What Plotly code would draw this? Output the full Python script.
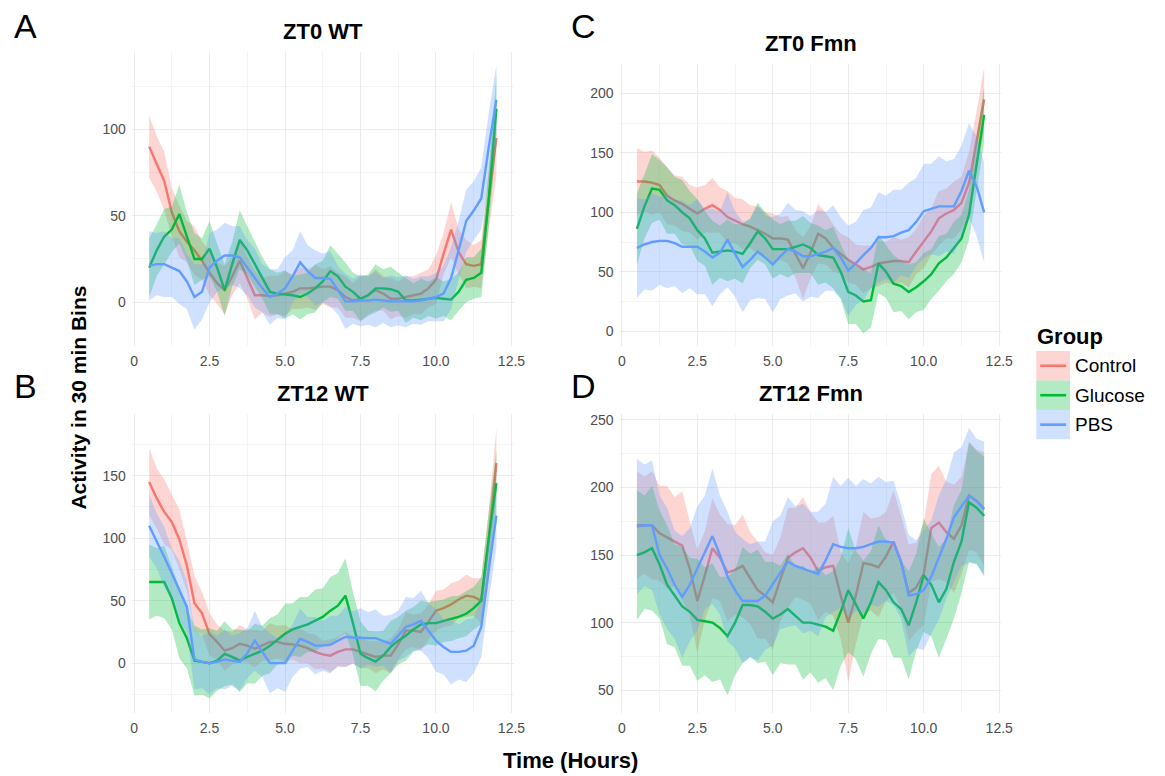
import plotly.graph_objects as go

# Time of each 15-min step (hours)
hours = [0.5, 0.75, 1.0, 1.25, 1.5, 1.75, 2.0, 2.25,
         2.5, 2.75, 3.0, 3.25, 3.5, 3.75, 4.0, 4.25,
         4.5, 4.75, 5.0, 5.25, 5.5, 5.75, 6.0, 6.25,
         6.5, 6.75, 7.0, 7.25, 7.5, 7.75, 8.0, 8.25,
         8.5, 8.75, 9.0, 9.25, 9.5, 9.75, 10.0, 10.25,
         10.5, 10.75, 11.0, 11.25, 11.5, 11.75, 12.0]

groups = ["Control", "Glucose", "PBS"]

# ---- ZT0 WT ----
zt0_wt_control = [90, 80, 70, 52, 41, 35, 30, 24,
                  17, 11, 7, 15, 24, 14, 4, 4,
                  3.5, 4, 5, 6, 8, 8, 8.5, 9,
                  9, 7, 3, 1, 2, 4, 7, 5,
                  2, 2, 3, 4, 5, 8, 13, 28,
                  42, 29, 22, 21, 22, 60, 95]
zt0_wt_control_err = [18, 16, 17, 14, 15, 12, 14, 11,
                      13, 12, 14, 11, 13, 12, 14, 10,
                      12, 11, 13, 10, 12, 11, 13, 10,
                      12, 10, 12, 10, 13, 11, 12, 10,
                      12, 10, 12, 11, 12, 11, 14, 12,
                      16, 13, 14, 12, 14, 18, 22]
zt0_wt_glucose = [20, 30, 38, 42, 51, 38, 25, 25,
                  31, 20, 7, 22, 36, 30, 22, 14,
                  6, 5, 4.5, 4, 3, 5, 8, 12,
                  18, 15, 9, 6, 2, 4, 8, 8,
                  7.5, 6, 1, 1, 1.5, 2, 2.5, 2,
                  1.5, 6, 13, 14, 17, 60, 112]
zt0_wt_glucose_err = [17, 15, 16, 13, 17, 14, 15, 12,
                      16, 14, 15, 13, 17, 14, 13, 12,
                      13, 12, 14, 11, 13, 12, 14, 12,
                      15, 13, 14, 11, 13, 12, 14, 11,
                      13, 11, 13, 10, 12, 10, 12, 10,
                      12, 11, 13, 12, 14, 16, 20]
zt0_wt_pbs = [21, 22, 22, 20, 18, 12, 3, 6,
              20, 24, 27, 27, 26, 20, 14, 8,
              3, 5, 8, 15, 23, 18, 14, 14,
              13.5, 7, 0.5, 0.5, 1, 1, 1.5, 1,
              0.5, 0.5, 0.5, 0.5, 1, 2, 3, 5,
              14, 30, 47, 53, 60, 90, 117]
zt0_wt_pbs_err = [20, 18, 19, 17, 19, 16, 19, 16,
                  20, 18, 19, 17, 18, 16, 17, 14,
                  16, 14, 18, 15, 18, 15, 16, 14,
                  16, 14, 16, 13, 15, 14, 16, 13,
                  15, 14, 15, 13, 14, 13, 14, 16,
                  18, 17, 18, 17, 18, 20, 20]

# ---- ZT12 WT ----
zt12_wt_control = [145, 132, 121, 113, 99, 78, 48, 40,
                   23, 17, 10, 12, 15.5, 14, 11.5, 14,
                   17, 17, 15.5, 15, 14, 12, 9, 7,
                   6, 9, 11, 11, 9, 7, 5, 6,
                   6, 15, 26, 26, 25, 33, 42, 44,
                   47, 51, 54, 53, 50, 100, 160]
zt12_wt_control_err = [27, 24, 26, 22, 24, 20, 22, 17,
                       17, 14, 16, 13, 15, 13, 15, 12,
                       15, 13, 15, 12, 14, 12, 14, 11,
                       13, 12, 14, 11, 13, 11, 13, 11,
                       14, 12, 15, 13, 15, 14, 16, 15,
                       17, 15, 17, 15, 18, 22, 28]
zt12_wt_glucose = [65, 65, 65, 52, 32, 20, 2, 1,
                   0, 2, 7.5, 5, 2, 5, 7.5, 10,
                   14, 19, 23.5, 27, 29, 31, 34, 37,
                   42, 46, 54, 32, 7.5, 4, 1.3, 6,
                   13, 18, 22, 27, 31, 32, 32, 34,
                   35.5, 37, 39.5, 44, 50, 100, 144]
zt12_wt_glucose_err = [30, 27, 29, 25, 28, 24, 28, 26,
                       28, 24, 26, 22, 25, 21, 24, 20,
                       22, 20, 24, 21, 24, 22, 25, 23,
                       27, 26, 30, 25, 26, 22, 24, 20,
                       21, 19, 20, 18, 19, 17, 18, 17,
                       18, 17, 18, 17, 19, 22, 26]
zt12_wt_pbs = [110, 98, 85, 72, 58, 45, 3, 1,
               0, 1, 3, 2, 1, 8, 18, 9,
               0, 0, 0, 10, 19.5, 17, 14, 14,
               14.7, 18, 21, 20.5, 20, 20, 20, 18,
               15.5, 22, 29, 31, 34, 26, 18, 13,
               9, 9, 10, 14, 29, 75, 118]
zt12_wt_pbs_err = [25, 22, 24, 20, 24, 21, 24, 21,
                   25, 21, 24, 20, 23, 20, 24, 20,
                   24, 20, 23, 21, 24, 20, 23, 20,
                   23, 20, 24, 21, 24, 21, 23, 20,
                   23, 20, 24, 21, 24, 22, 25, 22,
                   26, 22, 25, 22, 24, 24, 26]

# ---- ZT0 Fmn ----
zt0_fmn_control = [126, 126, 125, 123, 114, 110, 107, 103,
                   99, 103, 106, 102, 96, 93, 90, 88,
                   85, 82, 78, 78, 77, 65, 53, 66,
                   82, 78, 70, 65, 60, 56, 52, 54,
                   57, 58, 59, 59, 58, 67, 75, 84,
                   95, 99, 102, 108, 125, 160, 195]
zt0_fmn_control_err = [28, 25, 27, 23, 24, 21, 23, 20,
                       22, 20, 23, 19, 22, 19, 21, 18,
                       20, 18, 21, 18, 20, 20, 26, 22,
                       25, 22, 20, 17, 19, 17, 20, 18,
                       19, 17, 20, 18, 21, 19, 22, 20,
                       23, 21, 24, 22, 26, 25, 27]
zt0_fmn_glucose = [86, 105, 120, 119, 110, 106, 100, 95,
                   85, 78, 66, 67, 68, 67, 65, 74,
                   84, 78, 69, 69, 69, 71, 73, 70,
                   64, 63, 62, 50, 33, 30, 25, 26,
                   57, 50, 40, 38, 33, 37, 42, 48,
                   57, 62, 70, 78, 98, 140, 182]
zt0_fmn_glucose_err = [30, 27, 29, 25, 28, 24, 27, 23,
                       26, 23, 27, 22, 26, 23, 25, 21,
                       24, 22, 25, 21, 24, 22, 24, 21,
                       25, 22, 26, 23, 27, 24, 27, 23,
                       25, 22, 24, 21, 23, 21, 24, 21,
                       23, 20, 22, 20, 21, 22, 24]
zt0_fmn_pbs = [70, 73, 75, 76, 76, 74, 71, 71,
               71, 67, 62, 66, 77, 65, 54, 60,
               67, 62, 56, 63, 69, 67, 63, 63,
               65, 67, 70, 62, 51, 57, 64, 70,
               79, 79, 80, 83, 85, 92, 101, 103,
               105, 105, 105, 118, 135, 122, 100]
zt0_fmn_pbs_err = [42, 38, 41, 37, 40, 36, 39, 35,
                   40, 36, 41, 35, 40, 36, 38, 34,
                   39, 35, 40, 36, 39, 35, 38, 34,
                   37, 33, 36, 34, 38, 35, 38, 34,
                   38, 35, 39, 36, 40, 37, 40, 38,
                   42, 38, 40, 38, 40, 42, 42]

# ---- ZT12 Fmn ----
zt12_fmn_control = [172, 172, 172, 166, 163, 160, 157, 140,
                    116, 135, 155, 148, 137, 139, 142, 133,
                    124, 120, 115, 132, 148, 152, 155, 148,
                    138, 141, 142, 120, 100, 120, 144, 143,
                    141, 149, 160, 145, 122, 126, 136, 170,
                    174, 167, 162, 172, 194, 190, 184]
zt12_fmn_control_err = [40, 36, 40, 35, 38, 33, 40, 35,
                        38, 33, 37, 32, 36, 33, 38, 34,
                        36, 32, 35, 31, 37, 33, 38, 34,
                        36, 33, 37, 32, 44, 36, 38, 34,
                        37, 33, 38, 34, 36, 33, 38, 40,
                        42, 37, 40, 36, 40, 38, 42]
zt12_fmn_glucose = [150, 152, 155, 143, 128, 120, 112, 108,
                    102, 101, 100, 96, 90, 100, 113, 113,
                    112, 108, 103, 106, 110, 105, 100, 100,
                    98.5, 97, 94, 108, 124, 113, 103, 115,
                    130, 124, 115, 110, 98, 115, 135, 128,
                    115, 125, 145, 160, 189, 185, 179]
zt12_fmn_glucose_err = [48, 42, 46, 40, 44, 38, 44, 40,
                        45, 40, 44, 38, 44, 39, 43, 38,
                        42, 37, 42, 36, 41, 36, 42, 37,
                        43, 38, 44, 40, 46, 40, 43, 38,
                        42, 37, 41, 36, 40, 36, 42, 38,
                        41, 37, 42, 38, 44, 42, 44]
zt12_fmn_pbs = [171, 172, 172, 150, 140, 128, 119, 128,
                140, 152, 164, 150, 134, 124, 116, 116,
                116, 120, 129, 137, 145, 142, 140, 138,
                136, 146, 158, 156, 155, 155, 156, 158,
                160, 160, 159, 145, 120, 121, 124, 134,
                148, 162, 178, 186, 194, 190, 184]
zt12_fmn_pbs_err = [50, 45, 48, 44, 45, 40, 45, 42,
                    46, 42, 50, 44, 48, 43, 46, 42,
                    44, 40, 46, 42, 48, 44, 48, 44,
                    46, 42, 50, 45, 52, 46, 50, 45,
                    48, 44, 46, 42, 45, 40, 44, 42,
                    46, 44, 48, 44, 50, 46, 50]

x_tick_vals = [0, 2.5, 5.0, 7.5, 10.0, 12.5]
x_tick_text = ["0", "2.5", "5.0", "7.5", "10.0", "12.5"]

line_colors = {"Control": "#F8766D", "Glucose": "#00BA38", "PBS": "#619CFF"}
fill_colors = {"Control": "rgba(248,118,109,0.3)",
               "Glucose": "rgba(0,186,56,0.3)",
               "PBS": "rgba(97,156,255,0.3)"}

FONT = "Liberation Sans, Arial, Helvetica, sans-serif"
W, H = 1165, 776
PAGE_W = 1156.3


def px(v):
    return v / PAGE_W


def py(v):
    return 1 - v / H


# panel: (title, letter, axis suffix, series, x px span, y px span, y range, y ticks)
panels = [
    ("ZT0 WT", "A", "",
     {"Control": (zt0_wt_control, zt0_wt_control_err),
      "Glucose": (zt0_wt_glucose, zt0_wt_glucose_err),
      "PBS": (zt0_wt_pbs, zt0_wt_pbs_err)},
     (130.4, 514.1), (50, 345), (-25.4, 144.8), [0, 50, 100]),
    ("ZT12 WT", "B", "2",
     {"Control": (zt12_wt_control, zt12_wt_control_err),
      "Glucose": (zt12_wt_glucose, zt12_wt_glucose_err),
      "PBS": (zt12_wt_pbs, zt12_wt_pbs_err)},
     (130.4, 514.1), (413, 713), (-40, 199.4), [0, 50, 100, 150]),
    ("ZT0 Fmn", "C", "3",
     {"Control": (zt0_fmn_control, zt0_fmn_control_err),
      "Glucose": (zt0_fmn_glucose, zt0_fmn_glucose_err),
      "PBS": (zt0_fmn_pbs, zt0_fmn_pbs_err)},
     (620.4, 1004.1), (62, 345), (-12.6, 225), [0, 50, 100, 150, 200]),
    ("ZT12 Fmn", "D", "4",
     {"Control": (zt12_fmn_control, zt12_fmn_control_err),
      "Glucose": (zt12_fmn_glucose, zt12_fmn_glucose_err),
      "PBS": (zt12_fmn_pbs, zt12_fmn_pbs_err)},
     (620.4, 1004.1), (413, 713), (33, 254.4), [50, 100, 150, 200, 250]),
]

fig = go.Figure()
annotations = []
shapes = []

for title, letter, sfx, series, xspan, yspan, yrange, yticks in panels:
    xa, ya = "x" + sfx, "y" + sfx
    for g in groups:
        mean, err = series[g]
        if len(mean) != len(hours) or len(err) != len(hours):
            raise ValueError(f"{title} {g}: length mismatch")
        upper = [m + e for m, e in zip(mean, err)]
        lower = [m - e for m, e in zip(mean, err)]
        fig.add_trace(go.Scatter(
            x=hours + hours[::-1], y=upper + lower[::-1],
            fill="toself", fillcolor=fill_colors[g], mode="none",
            hoverinfo="skip", showlegend=False, xaxis=xa, yaxis=ya))
        fig.add_trace(go.Scatter(
            x=hours, y=mean, mode="lines", name=g,
            line=dict(color=line_colors[g], width=2.4),
            showlegend=False, xaxis=xa, yaxis=ya))

    common = dict(showgrid=True, gridcolor="#ebebeb", gridwidth=1.1,
                  zeroline=False, showline=False, ticks="",
                  tickfont=dict(family=FONT, size=14, color="#4d4d4d"))
    fig.layout["xaxis" + sfx] = dict(
        domain=[px(xspan[0]), px(xspan[1])], anchor=ya,
        range=[-0.075, 12.575],
        tickvals=x_tick_vals, ticktext=x_tick_text,
        ticklabelstandoff=5,
        minor=dict(showgrid=True, dtick=1.25, tick0=0,
                   gridcolor="#f4f4f4", gridwidth=0.8),
        **common)
    fig.layout["yaxis" + sfx] = dict(
        domain=[py(yspan[1]), py(yspan[0])], anchor=xa,
        range=list(yrange),
        tickvals=yticks, ticklabelstandoff=5,
        minor=dict(showgrid=True, dtick=25, tick0=0,
                   gridcolor="#f4f4f4", gridwidth=0.8),
        **common)

    cx = (xspan[0] + xspan[1]) / 2
    annotations.append(dict(
        text=f"<b>{title}</b>", x=px(cx), y=py(yspan[0] - 20),
        xref="paper", yref="paper", showarrow=False,
        xanchor="center", yanchor="middle",
        font=dict(family=FONT, size=22, color="#000000")))
    letter_x = 24 if xspan[0] < 500 else 584
    annotations.append(dict(
        text=letter, x=px(letter_x), y=py(24 if yspan[0] < 200 else 385),
        xref="paper", yref="paper", showarrow=False,
        xanchor="center", yanchor="middle",
        font=dict(family=FONT, size=34, color="#000000")))

# shared axis titles
annotations.append(dict(
    text="<b>Time (Hours)</b>", x=px(571), y=py(760),
    xref="paper", yref="paper", showarrow=False,
    xanchor="center", yanchor="middle",
    font=dict(family=FONT, size=22, color="#000000")))
annotations.append(dict(
    text="<b>Activity in 30 min Bins</b>", x=px(77), y=py(397),
    xref="paper", yref="paper", showarrow=False, textangle=-90,
    xanchor="center", yanchor="middle",
    font=dict(family=FONT, size=21, color="#000000")))

# legend: title, ribbon-coloured keys with line, labels
annotations.append(dict(
    text="<b>Group</b>", x=px(1038), y=py(335),
    xref="paper", yref="paper", showarrow=False,
    xanchor="left", yanchor="middle",
    font=dict(family=FONT, size=22, color="#000000")))
key_top = 350
key_h = 29.5
for i, g in enumerate(groups):
    y0 = key_top + i * key_h
    y1 = y0 + key_h
    shapes.append(dict(type="rect", xref="paper", yref="paper",
                       x0=px(1039), x1=px(1073),
                       y0=py(y1), y1=py(y0),
                       fillcolor=fill_colors[g], line=dict(width=0),
                       layer="above"))
    ym = py(y0 + key_h / 2)
    shapes.append(dict(type="line", xref="paper", yref="paper",
                       x0=px(1043), x1=px(1069), y0=ym, y1=ym,
                       line=dict(color=line_colors[g], width=2.6),
                       layer="above"))
    annotations.append(dict(
        text=g, x=px(1076), y=ym, xref="paper", yref="paper",
        showarrow=False, xanchor="left", yanchor="middle",
        font=dict(family=FONT, size=19, color="#000000")))

fig.update_layout(
    width=W, height=H,
    margin=dict(l=0, r=0, t=0, b=0),
    paper_bgcolor="white", plot_bgcolor="white",
    showlegend=False,
    annotations=annotations, shapes=shapes,
)

fig.write_html("out.html")
